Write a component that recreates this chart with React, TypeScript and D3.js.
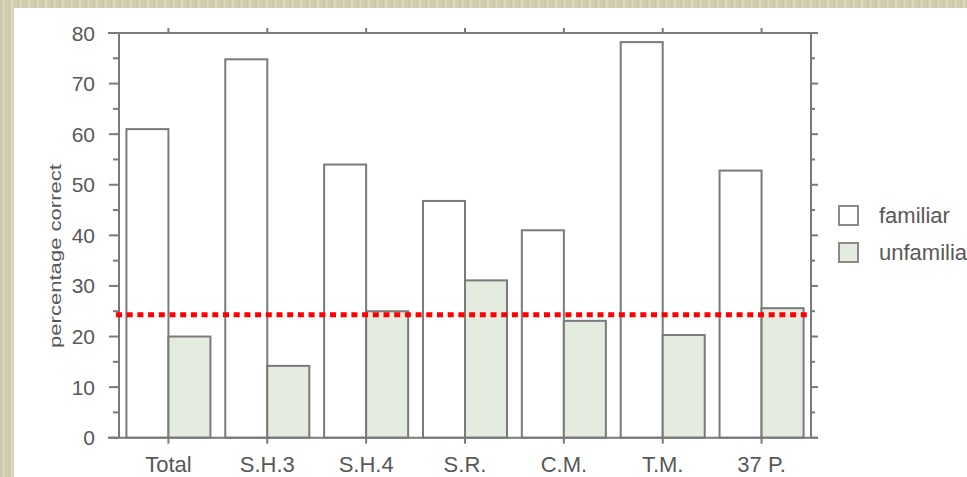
import React from "react";
import * as d3 from "d3";

const categories = ["Total", "S.H.3", "S.H.4", "S.R.", "C.M.", "T.M.", "37 P."];
const familiar = [61, 74.8, 54, 46.8, 41, 78.2, 52.8];
const unfamiliar = [20, 14.2, 25, 31.1, 23.1, 20.3, 25.6];
const chanceLevel = 24.3;
const yTicks = [0, 10, 20, 30, 40, 50, 60, 70, 80];
const seriesNames = ["familiar", "unfamiliar"];

const W = 967;
const H = 477;
const left = 119;
const right = 811;
const top = 33;
const bottom = 437.7;

export default function App() {
  const x = d3.scaleBand<string>().domain(categories).range([left, right]);
  const y = d3.scaleLinear().domain([0, 80]).range([bottom, top]);
  const bw = x.bandwidth() * 0.425;
  const minor = d3.range(0, 81, 5);
  const axisColor = "#7a7a7a";
  const textColor = "#585858";
  const font = "'Liberation Sans', Arial, sans-serif";
  const stripes = [0, 3, 5, 8, 11, 14];

  return (
    <>
      <style>{`body{margin:0}`}</style>
      <svg width={W} height={H} style={{ display: "block" }}>
        <defs>
          <pattern id="bg" width="17" height="477" patternUnits="userSpaceOnUse">
            <rect width="17" height="477" fill="#d3d0b2" />
            {stripes.map((s, i) => (
              <rect key={i} x={s} width={i % 2 ? 1.5 : 2} height="477"
                fill={i % 3 === 0 ? "#cbc8a9" : i % 3 === 1 ? "#dad7bd" : "#d0ccae"} />
            ))}
          </pattern>
        </defs>
        <rect width={W} height={H} fill="url(#bg)" />
        <rect x={14} y={8} width={W - 14} height={H - 8} fill="#ffffff" />

        {/* bars */}
        {categories.map((c, i) => {
          const cx = (x(c) as number) + x.bandwidth() / 2;
          return (
            <g key={c}>
              <rect x={cx - bw} y={y(familiar[i])} width={bw} height={bottom - y(familiar[i])}
                fill="#ffffff" stroke={axisColor} strokeWidth={2} />
              <rect x={cx} y={y(unfamiliar[i])} width={bw} height={bottom - y(unfamiliar[i])}
                fill="#e4ebdf" stroke={axisColor} strokeWidth={2} />
            </g>
          );
        })}

        {/* frame */}
        <line x1={left} x2={left} y1={top} y2={bottom} stroke={axisColor} strokeWidth={2} />
        <line x1={right} x2={right} y1={top} y2={bottom} stroke={axisColor} strokeWidth={2} />
        <line x1={108} x2={818} y1={top} y2={top} stroke={axisColor} strokeWidth={2} />
        <line x1={108} x2={818} y1={bottom} y2={bottom} stroke={axisColor} strokeWidth={2} />

        {minor.map((v) => {
          const major = v % 10 === 0;
          return (
            <g key={v}>
              <line x1={major ? 109 : 113} x2={left} y1={y(v)} y2={y(v)} stroke={axisColor} strokeWidth={2} />
              <line x1={right} x2={major ? 818 : 815} y1={y(v)} y2={y(v)} stroke={axisColor} strokeWidth={2} />
            </g>
          );
        })}
        {yTicks.map((v) => (
          <text key={v} x={95} y={y(v) + 7.5} textAnchor="end" fontSize={21} fill={textColor} fontFamily={font}>
            {v}
          </text>
        ))}

        {categories.map((c) => {
          const cx = (x(c) as number) + x.bandwidth() / 2;
          return (
            <g key={c}>
              <line x1={cx} x2={cx} y1={top} y2={top - 5} stroke={axisColor} strokeWidth={2} />
              <line x1={cx} x2={cx} y1={bottom} y2={bottom + 6} stroke={axisColor} strokeWidth={2} />
              <text x={cx} y={472} textAnchor="middle" fontSize={22} fill={textColor} fontFamily={font}>
                {c}
              </text>
            </g>
          );
        })}

        <text transform={`translate(61,256) rotate(-90)`} textAnchor="middle" fontSize={17}
          fill={textColor} fontFamily={font} textLength={184} lengthAdjust="spacingAndGlyphs">
          percentage correct
        </text>

        {/* chance line */}
        <line x1={116} x2={811} y1={y(chanceLevel)} y2={y(chanceLevel)} stroke="#ff0000"
          strokeWidth={5} strokeDasharray="6 4.7" />

        {/* legend */}
        {seriesNames.map((s, i) => (
          <g key={s}>
            <rect x={839} y={206 + i * 37} width={19} height={19}
              fill={i === 0 ? "#ffffff" : "#e4ebdf"} stroke="#8a8a8a" strokeWidth={2} />
            <text x={879} y={223 + i * 37} fontSize={22} fill={textColor} fontFamily={font}>
              {s}
            </text>
          </g>
        ))}
      </svg>
    </>
  );
}
